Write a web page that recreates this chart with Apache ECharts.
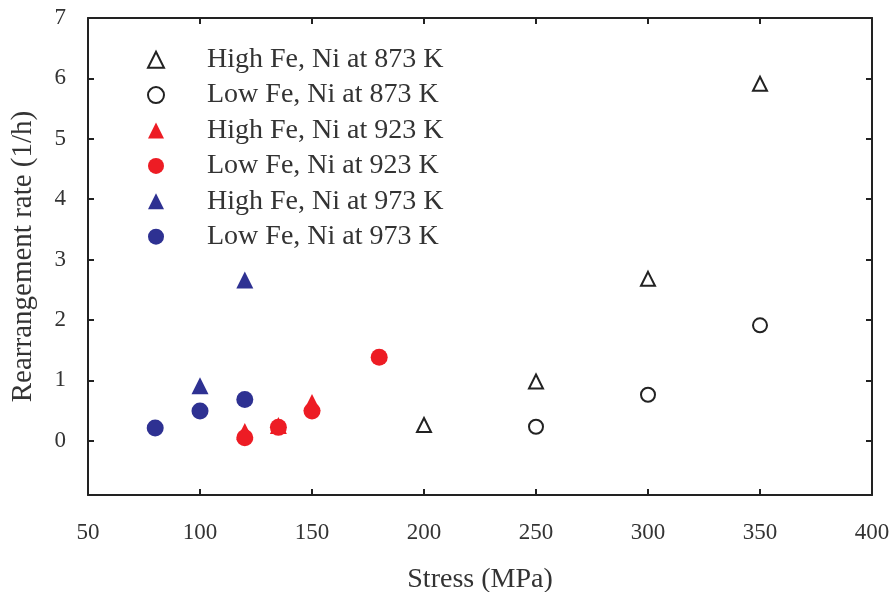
<!DOCTYPE html>
<html>
<head>
<meta charset="utf-8">
<script src="https://cdn.jsdelivr.net/npm/echarts@6/dist/echarts.min.js"></script>
<style>html,body{margin:0;padding:0;background:#fff}#c{width:891px;height:592px}</style>
</head>
<body>
<div id="c"></div>
<script>
const seriesNames = ['High Fe, Ni at 873 K','Low Fe, Ni at 873 K','High Fe, Ni at 923 K','Low Fe, Ni at 923 K','High Fe, Ni at 973 K','Low Fe, Ni at 973 K'];
const highFe873 = [[200,0.26],[250,0.98],[300,2.68],[350,5.91]];
const lowFe873 = [[250,0.23],[300,0.76],[350,1.91]];
const highFe923 = [[120,0.15],[135,0.25],[150,0.63]];
const lowFe923 = [[120,0.05],[135,0.22],[150,0.49],[180,1.38]];
const highFe973 = [[100,0.91],[120,2.66]];
const lowFe973 = [[80,0.21],[100,0.49],[120,0.68]];
const xTicks = [50,100,150,200,250,300,350,400];
const yTicks = [0,1,2,3,4,5,6,7];

const FONT = 'Liberation Serif';
const TXT = '#333';
const AX = '#222';
const RED = '#ed1c24';
const BLUE = '#2e3192';

const chart = echarts.init(document.getElementById('c'), null, {renderer:'canvas'});
const axisLine = {show:true, onZero:false, lineStyle:{color:AX, width:2}};
const tick = {show:true, inside:true, length:6, lineStyle:{color:AX, width:2}};
chart.setOption({
  animation:false,
  backgroundColor:'#fff',
  grid:{left:88, right:19, top:18, bottom:97, containLabel:false, outerBoundsMode:'none'},
  legend:{
    orient:'vertical', left:142, top:37, itemWidth:16, itemHeight:16, itemGap:0,
    data:seriesNames,
    textStyle:{fontFamily:FONT, fontSize:28, color:TXT, lineHeight:35.4, padding:[0,0,0,38]}
  },
  xAxis:[{
    type:'value', min:50, max:400, interval:50, position:'bottom',
    axisLine:axisLine, axisTick:tick, splitLine:{show:false},
    axisLabel:{fontFamily:FONT, fontSize:23, color:TXT, margin:26,
      customValues:xTicks},
    name:'Stress (MPa)', nameLocation:'middle', nameGap:71,
    nameTextStyle:{fontFamily:FONT, fontSize:28, color:TXT}
  },{
    type:'value', min:50, max:400, interval:50, position:'top',
    axisLine:axisLine, axisTick:tick, axisLabel:{show:false}, splitLine:{show:false}
  }],
  yAxis:[{
    type:'value', min:-0.9, max:7, position:'left',
    axisLine:axisLine, splitLine:{show:false},
    axisTick:Object.assign({}, tick, {customValues:yTicks}),
    axisLabel:{fontFamily:FONT, fontSize:23, color:TXT, margin:22, customValues:yTicks},
    name:'Rearrangement rate (1/h)', nameLocation:'middle', nameGap:50, nameRotate:90,
    nameTextStyle:{fontFamily:FONT, fontSize:29, color:TXT}
  },{
    type:'value', min:-0.9, max:7, position:'right',
    axisLine:axisLine, splitLine:{show:false},
    axisTick:Object.assign({}, tick, {customValues:yTicks}),
    axisLabel:{show:false}
  }],
  series:[
    {name:seriesNames[0], type:'scatter', data:highFe873, symbol:'triangle', symbolSize:14,
      itemStyle:{color:'#fff', borderColor:AX, borderWidth:2, opacity:1}},
    {name:seriesNames[1], type:'scatter', data:lowFe873, symbol:'circle', symbolSize:14,
      itemStyle:{color:'#fff', borderColor:AX, borderWidth:2, opacity:1}},
    {name:seriesNames[2], type:'scatter', data:highFe923, symbol:'triangle', symbolSize:17,
      itemStyle:{color:RED, opacity:1}},
    {name:seriesNames[3], type:'scatter', data:lowFe923, symbol:'circle', symbolSize:17,
      itemStyle:{color:RED, opacity:1}},
    {name:seriesNames[4], type:'scatter', data:highFe973, symbol:'triangle', symbolSize:17,
      itemStyle:{color:BLUE, opacity:1}},
    {name:seriesNames[5], type:'scatter', data:lowFe973, symbol:'circle', symbolSize:17,
      itemStyle:{color:BLUE, opacity:1}}
  ]
});
</script>
</body>
</html>
